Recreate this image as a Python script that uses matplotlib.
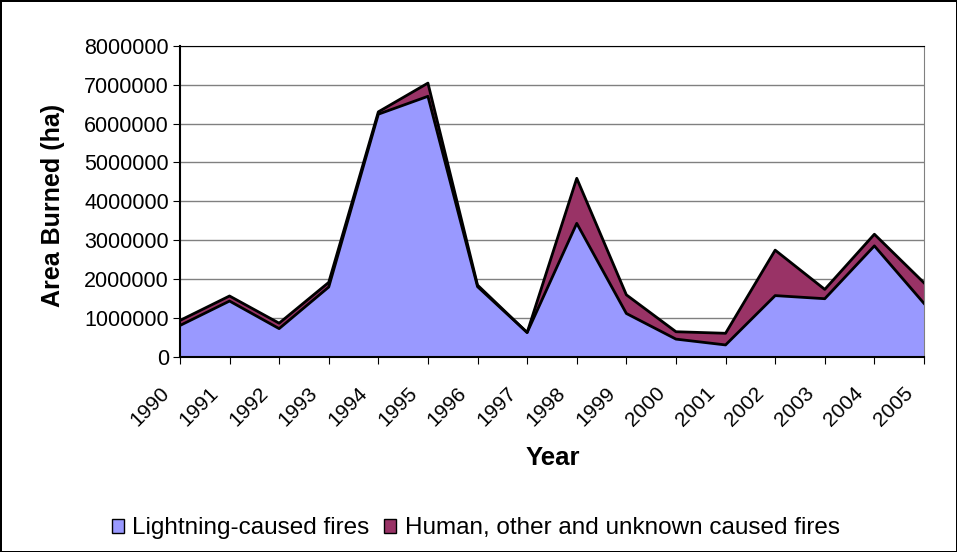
import matplotlib.pyplot as plt
import matplotlib.transforms as mtransforms
import numpy as np
from matplotlib.patches import Patch

plt.rcParams['font.family'] = ['Liberation Sans', 'DejaVu Sans']

# data
years = [str(y) for y in range(1990, 2006)]
lightning = [800000, 1430000, 720000, 1790000, 6240000, 6700000, 1800000, 620000,
             3430000, 1110000, 450000, 300000, 1570000, 1490000, 2850000, 1370000]
total = [930000, 1560000, 860000, 1910000, 6300000, 7040000, 1840000, 620000,
         4590000, 1590000, 640000, 600000, 2740000, 1730000, 3150000, 1900000]
human = [t - l for t, l in zip(total, lightning)]

c_light = '#9999FF'
c_human = '#993366'

fig = plt.figure(figsize=(9.57, 5.52), dpi=100)
fig.patch.set_edgecolor('black')
fig.patch.set_linewidth(2)
ax = fig.add_axes([0.188, 0.354, 0.7775, 0.563])

x = np.arange(len(years))
ax.stackplot(x, lightning, human, colors=[c_light, c_human], linewidth=0)
ax.plot(x, lightning, color='black', lw=2, zorder=3)
ax.plot(x, np.array(lightning) + np.array(human), color='black', lw=2, zorder=3)

ax.set_xlim(0, len(years) - 1)
ax.set_ylim(0, 8000000)
ax.set_yticks(np.arange(0, 8000001, 1000000))
ax.set_yticklabels([str(v) for v in range(0, 8000001, 1000000)], fontsize=15.5)
ax.set_xticks(x)
ax.set_xticklabels(years, rotation=45, ha='right', va='center', rotation_mode='anchor', fontsize=15)
ax.tick_params(axis='x', length=5, direction='out', pad=19)
ax.tick_params(axis='y', length=5, direction='out', pad=3)
shift = mtransforms.ScaledTranslation(-10 / 72, 0, fig.dpi_scale_trans)
for lab in ax.get_xticklabels():
    lab.set_transform(lab.get_transform() + shift)

ax.grid(axis='y', color='#808080', lw=1)
ax.set_axisbelow(True)
for s in ['left', 'bottom']:
    ax.spines[s].set_color('black')
    ax.spines[s].set_linewidth(1.5)
ax.spines['top'].set_color('black')
ax.spines['right'].set_color('#808080')

ax.set_ylabel('Area Burned (ha)', fontsize=18, fontweight='bold', va='center')
ax.yaxis.set_label_coords(-0.171, 0.485)
ax.set_xlabel('Year', fontsize=18.5, fontweight='bold', va='center')
ax.xaxis.set_label_coords(0.501, -0.327)

handles = [Patch(facecolor=c_light, edgecolor='black', label='Lightning-caused fires'),
           Patch(facecolor=c_human, edgecolor='black', label='Human, other and unknown caused fires')]
fig.legend(handles=handles, loc='center', bbox_to_anchor=(0.497, 0.043), ncol=2, frameon=False,
           fontsize=17.5, handlelength=0.5, handleheight=0.5, handletextpad=0.35, columnspacing=0.6)

fig.savefig('out.png', dpi=100)
